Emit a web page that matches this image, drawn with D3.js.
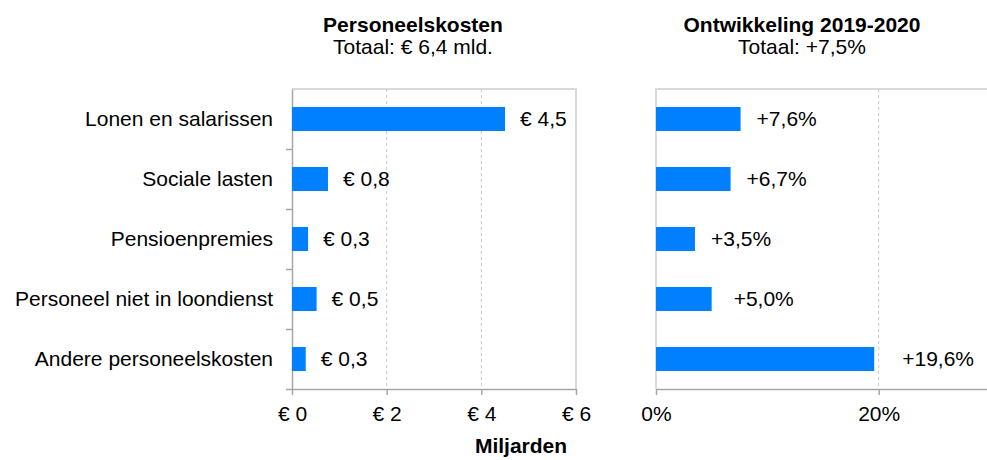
<!DOCTYPE html>
<html lang="nl">
<head>
    <meta charset="UTF-8">
    <title>Personeelskosten</title>
    <script src="https://d3js.org/d3.v7.min.js"></script>
    <style>
        body {
            margin: 0;
            background: #fff;
        }
        svg {
            font-family: "Liberation Sans", Arial, sans-serif;
            font-size: 21px;
            fill: #000;
        }
        .axis path, .axis line {
            stroke: #a6a6a6;
            stroke-width: 1.5;
        }
        .axis text {
            font-size: 21px;
            fill: #000;
        }
        .frame {
            stroke: #d9d9d9;
            stroke-width: 2;
            fill: none;
        }
        .grid line {
            stroke: #c8c8c8;
            stroke-dasharray: 3 3;
        }
    </style>
</head>
<body>
    <svg id="chart" width="987" height="460"></svg>

    <script>
        // categories and values
        const categories = [
            "Lonen en salarissen",
            "Sociale lasten",
            "Pensioenpremies",
            "Personeel niet in loondienst",
            "Andere personeelskosten"
        ];
        const costs = [4.5, 0.76, 0.34, 0.52, 0.29];     // € miljard
        const growth = [7.6, 6.7, 3.5, 5.0, 19.6];       // % 2019-2020

        const costTicks = [0, 2, 4, 6];
        const growthTicks = [0, 20];

        // label gap after the growth bars is not constant in the original
        const growthLabelGap = [16, 16, 16, 22, 28];

        const nl = d3.formatLocale({ decimal: ",", thousands: ".", grouping: [3], currency: ["€ ", ""] });
        const fmt1 = nl.format(".1f");

        const barColor = "#0080ff";
        const plotTop = 89, plotBottom = 389;

        const svg = d3.select("#chart");

        const y = d3.scaleBand()
            .domain(categories)
            .range([plotTop, plotBottom])
            .paddingInner(0.6)
            .paddingOuter(0.3);

        const xCost = d3.scaleLinear().domain([0, 6]).range([292, 576]);
        const xGrowth = d3.scaleLinear().domain([0, 30]).range([656, 990]);

        // titles
        function title(x, main, sub) {
            svg.append("text")
                .attr("x", x).attr("y", 32)
                .attr("text-anchor", "middle")
                .style("font-weight", "bold")
                .text(main);
            svg.append("text")
                .attr("x", x).attr("y", 54)
                .attr("text-anchor", "middle")
                .text(sub);
        }
        title(413, "Personeelskosten", "Totaal: € 6,4 mld.");
        title(802, "Ontwikkeling 2019-2020", "Totaal: +7,5%");

        // gridlines
        svg.append("g").attr("class", "grid")
            .selectAll("line")
            .data(costTicks.filter(d => d > 0 && d < 6))
            .join("line")
            .attr("x1", d => xCost(d)).attr("x2", d => xCost(d))
            .attr("y1", plotTop).attr("y2", plotBottom);

        svg.append("g").attr("class", "grid")
            .selectAll("line")
            .data(growthTicks.filter(d => d > 0))
            .join("line")
            .attr("x1", d => xGrowth(d)).attr("x2", d => xGrowth(d))
            .attr("y1", plotTop).attr("y2", plotBottom);

        // frames (light lines top / right / left)
        svg.append("path").attr("class", "frame")
            .attr("d", `M${xCost(0)},${plotTop}H${xCost(6)}V${plotBottom}`);
        svg.append("path").attr("class", "frame")
            .attr("d", `M${xGrowth(0)},${plotBottom}V${plotTop}H${xGrowth(30)}`);

        // category axis, ticks at band boundaries
        const yBound = d3.scaleLinear().domain([0, categories.length]).range([plotTop, plotBottom]);
        svg.append("g")
            .attr("class", "axis")
            .attr("transform", `translate(${xCost(0)},0)`)
            .call(d3.axisLeft(yBound)
                .tickValues(d3.range(1, categories.length + 1))
                .tickFormat("")
                .tickSize(6)
                .tickSizeOuter(0));

        svg.append("g")
            .selectAll("text")
            .data(categories)
            .join("text")
            .attr("x", 273)
            .attr("y", d => y(d) + y.bandwidth() / 2)
            .attr("dy", "0.35em")
            .attr("text-anchor", "end")
            .text(d => d);

        // x axes
        svg.append("g")
            .attr("class", "axis")
            .attr("transform", `translate(0,${plotBottom})`)
            .call(d3.axisBottom(xCost)
                .tickValues(costTicks)
                .tickFormat(d => "€ " + d)
                .tickSize(6)
                .tickPadding(11)
                .tickSizeOuter(0));

        svg.append("g")
            .attr("class", "axis")
            .attr("transform", `translate(0,${plotBottom})`)
            .call(d3.axisBottom(xGrowth)
                .tickValues(growthTicks)
                .tickFormat(d => d + "%")
                .tickSize(6)
                .tickPadding(11)
                .tickSizeOuter(0));

        svg.selectAll(".axis .domain").raise();

        svg.append("text")
            .attr("x", 521).attr("y", 453)
            .attr("text-anchor", "middle")
            .style("font-weight", "bold")
            .text("Miljarden");

        // bars: costs
        svg.append("g")
            .selectAll("rect")
            .data(costs)
            .join("rect")
            .attr("x", xCost(0))
            .attr("y", (d, i) => y(categories[i]))
            .attr("width", d => xCost(d) - xCost(0))
            .attr("height", y.bandwidth())
            .attr("fill", barColor);

        svg.append("g")
            .selectAll("text")
            .data(costs)
            .join("text")
            .attr("x", d => xCost(d) + 15)
            .attr("y", (d, i) => y(categories[i]) + y.bandwidth() / 2)
            .attr("dy", "0.35em")
            .text(d => "€ " + fmt1(d));

        // bars: growth
        svg.append("g")
            .selectAll("rect")
            .data(growth)
            .join("rect")
            .attr("x", xGrowth(0))
            .attr("y", (d, i) => y(categories[i]))
            .attr("width", d => xGrowth(d) - xGrowth(0))
            .attr("height", y.bandwidth())
            .attr("fill", barColor);

        svg.append("g")
            .selectAll("text")
            .data(growth)
            .join("text")
            .attr("x", (d, i) => xGrowth(d) + growthLabelGap[i])
            .attr("y", (d, i) => y(categories[i]) + y.bandwidth() / 2)
            .attr("dy", "0.35em")
            .text(d => "+" + fmt1(d) + "%");
    </script>
</body>
</html>
